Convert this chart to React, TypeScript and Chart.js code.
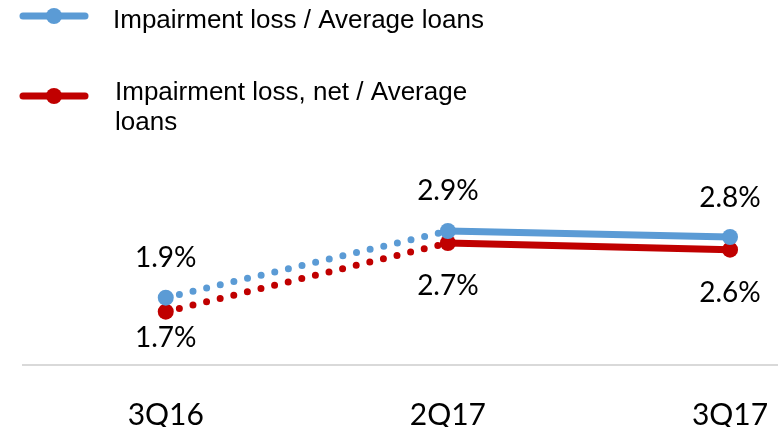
import React, { useEffect, useRef } from "react";
import { Chart, registerables } from "chart.js";

Chart.register(...registerables);

const categories = ["3Q16", "2Q17", "3Q17"];
const seriesNames = ["Impairment loss / Average loans", "Impairment loss, net / Average loans"];
const impairmentLoss = [1.9, 2.9, 2.81];
const impairmentLossNet = [1.69, 2.72, 2.62];

const BLUE = "#5B9BD5";
const RED = "#C00000";
const LABEL_FONT = "28px Lato";
const LEGEND_FONT = "26px 'Liberation Sans', Arial, sans-serif";

// label placement per series: above (negative) or below (positive) the point, baseline offset
const labelOffsets = [
  [-31, -31, -30],
  [35, 52, 52],
];

const legendLayout = [
  { markerY: 16, textX: 113, firstBaseline: 28 },
  { markerY: 96, textX: 115, firstBaseline: 100 },
];

function wrap(ctx: CanvasRenderingContext2D, text: string, maxWidth: number): string[] {
  const words = text.split(" ");
  const lines: string[] = [];
  let cur = "";
  for (const w of words) {
    const test = cur ? cur + " " + w : w;
    if (ctx.measureText(test).width > maxWidth && cur) {
      lines.push(cur);
      cur = w;
    } else cur = test;
  }
  if (cur) lines.push(cur);
  return lines;
}

const customPlugin = {
  id: "custom",
  afterDatasetsDraw(chart: any) {
    const ctx: CanvasRenderingContext2D = chart.ctx;
    ctx.save();
    // data labels
    ctx.font = LABEL_FONT;
    ctx.fillStyle = "#000";
    ctx.textAlign = "center";
    ctx.textBaseline = "alphabetic";
    chart.data.datasets.forEach((ds: any, di: number) => {
      const meta = chart.getDatasetMeta(di);
      meta.data.forEach((pt: any, i: number) => {
        const v = ds.data[i].y;
        ctx.fillText(v.toFixed(1) + "%", pt.x, pt.y + labelOffsets[di][i]);
      });
    });
    // legend
    chart.data.datasets.forEach((ds: any, di: number) => {
      const L = legendLayout[di];
      ctx.strokeStyle = ds.borderColor;
      ctx.lineWidth = 7;
      ctx.lineCap = "round";
      ctx.beginPath();
      ctx.moveTo(23, L.markerY);
      ctx.lineTo(85, L.markerY);
      ctx.stroke();
      ctx.fillStyle = ds.borderColor;
      ctx.beginPath();
      ctx.arc(54, L.markerY, 8, 0, Math.PI * 2);
      ctx.fill();
      ctx.font = LEGEND_FONT;
      ctx.fillStyle = "#000";
      ctx.textAlign = "left";
      const lines = wrap(ctx, ds.label, 395);
      lines.forEach((ln, k) => ctx.fillText(ln, L.textX, L.firstBaseline + k * 30));
    });
    ctx.restore();
  },
};

export default function App() {
  const ref = useRef<HTMLCanvasElement>(null);
  useEffect(() => {
    if (!ref.current) return;
    const dotted = (ctx: any) => (ctx.p0DataIndex === 0 ? [0, 14] : undefined);
    const mk = (label: string, values: number[], color: string) => ({
      label,
      data: values.map((y, i) => ({ x: i, y })),
      borderColor: color,
      backgroundColor: color,
      borderWidth: 7,
      borderCapStyle: "round" as const,
      pointRadius: 8,
      pointHoverRadius: 8,
      pointBorderWidth: 0,
      tension: 0,
      segment: { borderDash: dotted },
    });
    const chart = new Chart(ref.current, {
      type: "line",
      data: {
        datasets: [mk(seriesNames[0], impairmentLoss, BLUE), mk(seriesNames[1], impairmentLossNet, RED)],
      },
      options: {
        animation: false,
        responsive: false,
        maintainAspectRatio: false,
        layout: { autoPadding: false, padding: { top: 150, left: 23, right: 0, bottom: 0 } },
        plugins: { legend: { display: false }, tooltip: { enabled: false }, title: { display: false } },
        scales: {
          x: {
            type: "linear",
            min: -0.506,
            max: 2.17,
            afterBuildTicks: (scale: any) => {
              scale.ticks = categories.map((_, i) => ({ value: i }));
            },
            afterFit: (scale: any) => {
              scale.height = 62;
              scale.paddingLeft = 0;
              scale.paddingRight = 0;
            },
            grid: { display: true, drawOnChartArea: false, drawTicks: false, color: "rgba(0,0,0,0)" },
            border: { display: true, color: "#D9D9D9", width: 2 },
            ticks: {
              autoSkip: false,
              maxRotation: 0,
              padding: 32,
              color: "#000",
              font: { family: "Lato", size: 30 },
              callback: (v: any) => categories[v] ?? "",
            },
          },
          y: {
            display: false,
            min: 0.891,
            max: 4.114,
          },
        },
      },
      plugins: [customPlugin],
    });
    return () => chart.destroy();
  }, []);
  return (
    <div style={{ position: "absolute", left: 0, top: 0, width: 778, height: 427 }}>
      <canvas ref={ref} width={778} height={427} style={{ width: 778, height: 427 }} />
    </div>
  );
}
